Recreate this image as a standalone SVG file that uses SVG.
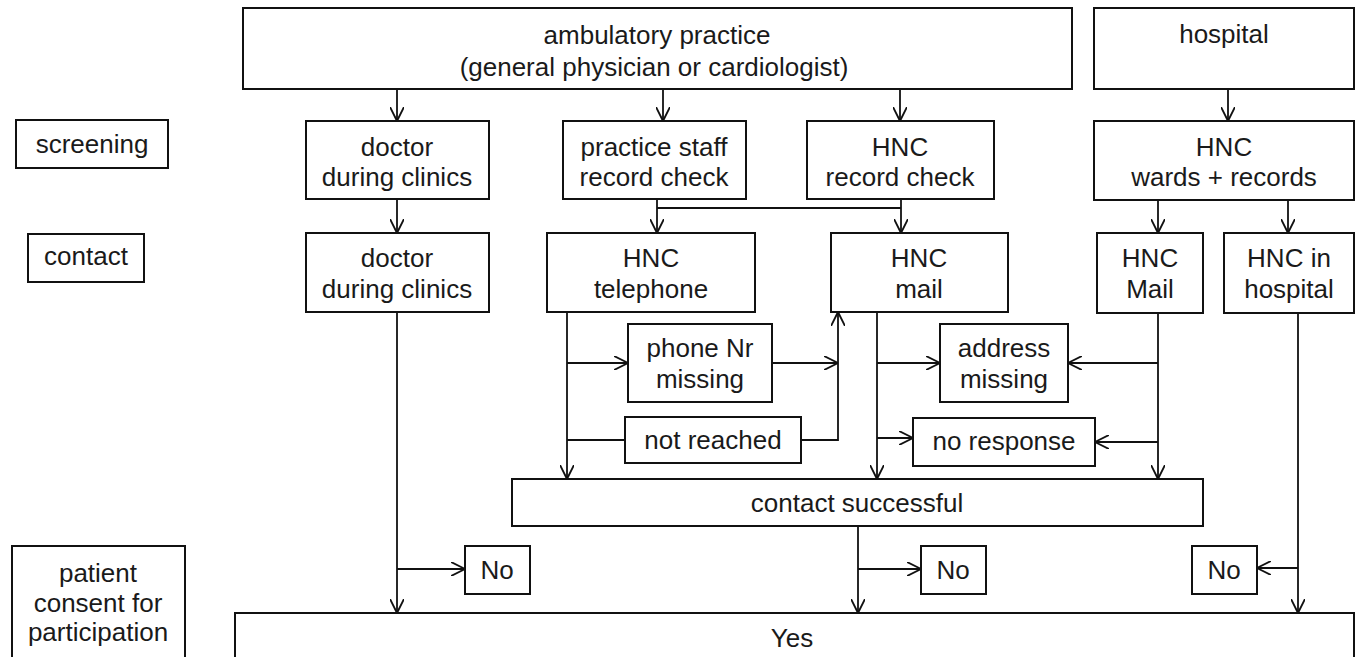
<svg xmlns="http://www.w3.org/2000/svg" width="1358" height="657" viewBox="0 0 1358 657">
<defs>
<marker id="arr" markerUnits="userSpaceOnUse" markerWidth="14" markerHeight="14" viewBox="0 0 12 12" refX="12" refY="6" orient="auto">
<path d="M0,0 L12,6 L0,12" fill="none" stroke="#111" stroke-width="1.6"/>
</marker>
<style>
.b{fill:#fff;stroke:#111;stroke-width:2}
.t{font-family:"Liberation Sans",Arial,sans-serif;font-size:26px;fill:#1a1a1a;text-anchor:middle}
.c{fill:none;stroke:#111;stroke-width:1.8}
.a{marker-end:url(#arr)}
</style>
</defs>
<rect width="1358" height="657" fill="#fff"/>
<g id="connectors">
<path class="c a" d="M397,89 V121"/>
<path class="c a" d="M663,89 V121"/>
<path class="c a" d="M900,89 V121"/>
<path class="c a" d="M1228,89 V121"/>
<path class="c a" d="M397,199 V233"/>
<path class="c a" d="M657,199 V233"/>
<path class="c" d="M657,208 H901"/>
<path class="c a" d="M901,199 V233"/>
<path class="c a" d="M1158,200 V233"/>
<path class="c a" d="M1288,200 V233"/>
<path class="c a" d="M397,313 V613"/>
<path class="c a" d="M397,569 H465"/>
<path class="c a" d="M567,312 V479"/>
<path class="c a" d="M567,363 H628"/>
<path class="c" d="M567,440 H625"/>
<path class="c a" d="M772,363 H838"/>
<path class="c a" d="M801,440 H838 V312"/>
<path class="c a" d="M877,312 V479"/>
<path class="c a" d="M877,363 H940"/>
<path class="c a" d="M877,438 H913"/>
<path class="c a" d="M1158,313 V479"/>
<path class="c a" d="M1158,363 H1068"/>
<path class="c a" d="M1158,442 H1095"/>
<path class="c a" d="M1298,313 V613"/>
<path class="c a" d="M1298,568 H1257"/>
<path class="c a" d="M858,526 V613"/>
<path class="c a" d="M858,569 H921"/>
</g>
<g id="n-ambulatory"><rect class="b" x="243" y="8" width="829" height="81"/><text class="t" x="657" y="44">ambulatory practice</text><text class="t" x="654" y="76">(general physician or cardiologist)</text></g>
<g id="n-hospital"><rect class="b" x="1094" y="8" width="260" height="81"/><text class="t" x="1224" y="43">hospital</text></g>
<g id="n-screening"><rect class="b" x="16" y="120" width="152" height="48"/><text class="t" x="92" y="153">screening</text></g>
<g id="n-contact"><rect class="b" x="28" y="234" width="116" height="48"/><text class="t" x="86" y="265">contact</text></g>
<g id="n-doctor1"><rect class="b" x="306" y="121" width="183" height="78"/><text class="t" x="397" y="156">doctor</text><text class="t" x="397" y="186">during clinics</text></g>
<g id="n-staff"><rect class="b" x="563" y="121" width="183" height="78"/><text class="t" x="654" y="156">practice staff</text><text class="t" x="654" y="186">record check</text></g>
<g id="n-hncrecord"><rect class="b" x="807" y="121" width="187" height="78"/><text class="t" x="900" y="156">HNC</text><text class="t" x="900" y="186">record check</text></g>
<g id="n-wards"><rect class="b" x="1094" y="121" width="260" height="79"/><text class="t" x="1224" y="156">HNC</text><text class="t" x="1224" y="186">wards + records</text></g>
<g id="n-doctor2"><rect class="b" x="306" y="233" width="183" height="79"/><text class="t" x="397" y="267">doctor</text><text class="t" x="397" y="298">during clinics</text></g>
<g id="n-telephone"><rect class="b" x="547" y="233" width="208" height="79"/><text class="t" x="651" y="267">HNC</text><text class="t" x="651" y="298">telephone</text></g>
<g id="n-mail"><rect class="b" x="831" y="233" width="177" height="79"/><text class="t" x="919" y="267">HNC</text><text class="t" x="919" y="298">mail</text></g>
<g id="n-hncMail"><rect class="b" x="1097" y="233" width="106" height="80"/><text class="t" x="1150" y="267">HNC</text><text class="t" x="1150" y="298">Mail</text></g>
<g id="n-inhospital"><rect class="b" x="1224" y="233" width="130" height="80"/><text class="t" x="1289" y="267">HNC in</text><text class="t" x="1289" y="298">hospital</text></g>
<g id="n-phonemissing"><rect class="b" x="628" y="324" width="144" height="78"/><text class="t" x="700" y="357">phone Nr</text><text class="t" x="700" y="388">missing</text></g>
<g id="n-notreached"><rect class="b" x="625" y="417" width="176" height="46"/><text class="t" x="713" y="449">not reached</text></g>
<g id="n-addressmissing"><rect class="b" x="940" y="324" width="128" height="78"/><text class="t" x="1004" y="357">address</text><text class="t" x="1004" y="388">missing</text></g>
<g id="n-noresponse"><rect class="b" x="913" y="418" width="182" height="48"/><text class="t" x="1004" y="450">no response</text></g>
<g id="n-success"><rect class="b" x="512" y="479" width="691" height="47"/><text class="t" x="857" y="512">contact successful</text></g>
<g id="n-patient"><rect class="b" x="12" y="546" width="173" height="120"/><text class="t" x="98" y="582">patient</text><text class="t" x="98" y="612">consent for</text><text class="t" x="98" y="641">participation</text></g>
<g id="n-no1"><rect class="b" x="465" y="546" width="65" height="48"/><text class="t" x="497" y="579">No</text></g>
<g id="n-no2"><rect class="b" x="921" y="546" width="65" height="48"/><text class="t" x="953" y="579">No</text></g>
<g id="n-no3"><rect class="b" x="1192" y="546" width="65" height="48"/><text class="t" x="1224" y="579">No</text></g>
<g id="n-yes"><rect class="b" x="235" y="613" width="1119" height="60"/><text class="t" x="792" y="647">Yes</text></g>
</svg>
